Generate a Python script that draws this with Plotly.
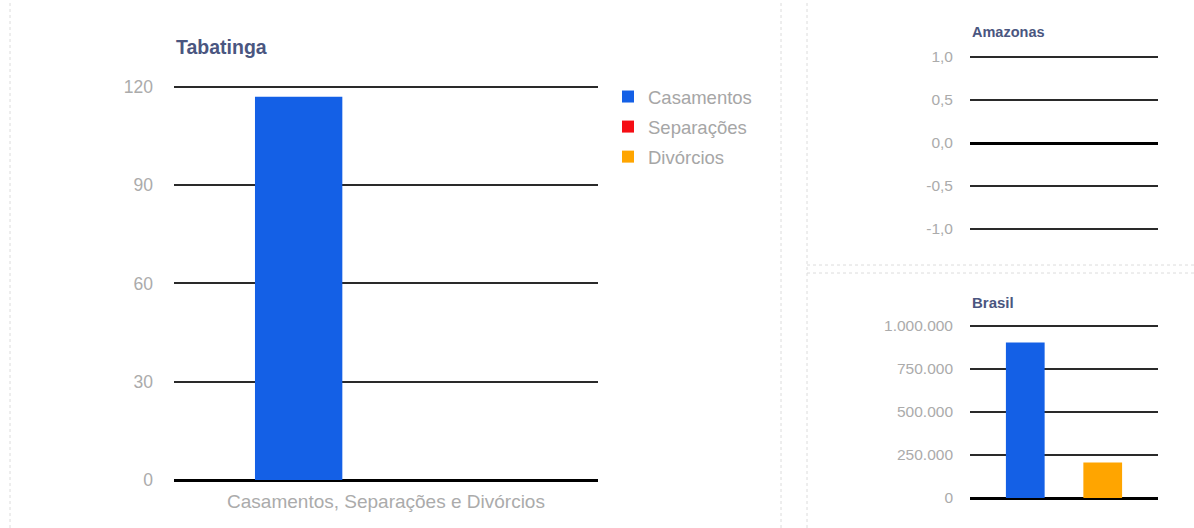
import plotly.graph_objects as go

# Category and series
categoria = ["Casamentos, Separações e Divórcios"]
series = ["Casamentos", "Separações", "Divórcios"]
cores = ["#1460e6", "#f50d14", "#ffa500"]

# Values per region (Casamentos, Separações, Divórcios)
tabatinga = [117, 0, 0]
amazonas = [0, 0, 0]
brasil = [905000, 0, 206000]

# Axis ticks
ticks_tabatinga = [0, 30, 60, 90, 120]
ticks_amazonas = [-1.0, -0.5, 0.0, 0.5, 1.0]
rotulos_amazonas = ["-1,0", "-0,5", "0,0", "0,5", "1,0"]
ticks_brasil = [0, 250000, 500000, 750000, 1000000]

W, H = 1194, 528
FONT = "Liberation Sans, Arial, sans-serif"
TICK_GRAY = "#ababab"
TITLE_COLOR = "#4a5680"
GRID = "#2a2a2a"


def px(x):
    return x / W


def py(y):
    return 1 - y / H


fig = go.Figure()

for i, nome in enumerate(series):
    fig.add_trace(go.Bar(x=categoria, y=[tabatinga[i]], name=nome, legendgroup=nome,
                         marker=dict(color=cores[i], line=dict(width=0)),
                         xaxis="x", yaxis="y", showlegend=True))
for i, nome in enumerate(series):
    fig.add_trace(go.Bar(x=categoria, y=[amazonas[i]], name=nome, legendgroup=nome,
                         marker=dict(color=cores[i], line=dict(width=0)),
                         xaxis="x2", yaxis="y2", showlegend=False))
for i, nome in enumerate(series):
    fig.add_trace(go.Bar(x=categoria, y=[brasil[i]], name=nome, legendgroup=nome,
                         marker=dict(color=cores[i], line=dict(width=0)),
                         xaxis="x3", yaxis="y3", showlegend=False))

ycommon = dict(showline=False, gridcolor=GRID, gridwidth=1.5,
               zeroline=True, zerolinecolor="#000", zerolinewidth=2.5,
               ticks="", fixedrange=True, automargin=False)
xcommon = dict(showline=False, showgrid=False, ticks="", fixedrange=True, automargin=False)

fig.update_layout(
    width=W, height=H,
    margin=dict(l=0, r=0, t=0, b=0, autoexpand=False),
    paper_bgcolor="white", plot_bgcolor="white",
    separators=",.",
    barmode="group", bargap=0.382, bargroupgap=0,
    font=dict(family=FONT, color=TICK_GRAY),
    xaxis=dict(domain=[px(174), px(598)], anchor="y",
               tickfont=dict(size=19, color=TICK_GRAY), ticklabelstandoff=8, **xcommon),
    yaxis=dict(domain=[py(480), py(83.7)], anchor="x", range=[0, 121],
               tickvals=ticks_tabatinga, tickfont=dict(size=17.5, color=TICK_GRAY),
               ticklabelstandoff=20, **ycommon),
    xaxis2=dict(domain=[px(970), px(1158)], anchor="y2",
                showticklabels=False, **xcommon),
    yaxis2=dict(domain=[py(230.7), py(55.3)], anchor="x2", range=[-1.02, 1.02],
                tickvals=ticks_amazonas, ticktext=rotulos_amazonas,
                tickfont=dict(size=15.5, color=TICK_GRAY), ticklabelstandoff=16, **ycommon),
    xaxis3=dict(domain=[px(970), px(1158)], anchor="y3",
                showticklabels=False, **xcommon),
    yaxis3=dict(domain=[py(498), py(322.6)], anchor="x3", range=[0, 1020000],
                tickvals=ticks_brasil, tickformat=",d",
                tickfont=dict(size=15.5, color=TICK_GRAY), ticklabelstandoff=16, **ycommon),
    legend=dict(x=px(608), y=py(78), xanchor="left", yanchor="top",
                font=dict(size=18.5, color="#a6a6a6", family=FONT),
                bgcolor="rgba(0,0,0,0)", tracegroupgap=3, itemwidth=30),
)

titulos = [("Tabatinga", 174, 47, 19.5), ("Amazonas", 970, 32, 14.5), ("Brasil", 970, 302, 15)]
for texto, x, y, s in titulos:
    fig.add_annotation(text=f"<b>{texto}</b>", x=px(x), y=py(y), xref="paper", yref="paper",
                       xanchor="left", yanchor="middle", showarrow=False,
                       font=dict(size=s, color=TITLE_COLOR, family=FONT))

# faint panel separators
sep = dict(color="#dcdcdc", width=1, dash="dot")
fig.add_shape(type="line", xref="paper", yref="paper", x0=px(781), x1=px(781), y0=0, y1=1, line=sep)
fig.add_shape(type="line", xref="paper", yref="paper", x0=px(807), x1=px(807), y0=0, y1=1, line=sep)
fig.add_shape(type="line", xref="paper", yref="paper", x0=px(807), x1=1, y0=py(265), y1=py(265), line=sep)
fig.add_shape(type="line", xref="paper", yref="paper", x0=px(807), x1=1, y0=py(273), y1=py(273), line=sep)
fig.add_shape(type="line", xref="paper", yref="paper", x0=px(10), x1=px(10), y0=0, y1=1, line=sep)

fig.write_html("out.html")
